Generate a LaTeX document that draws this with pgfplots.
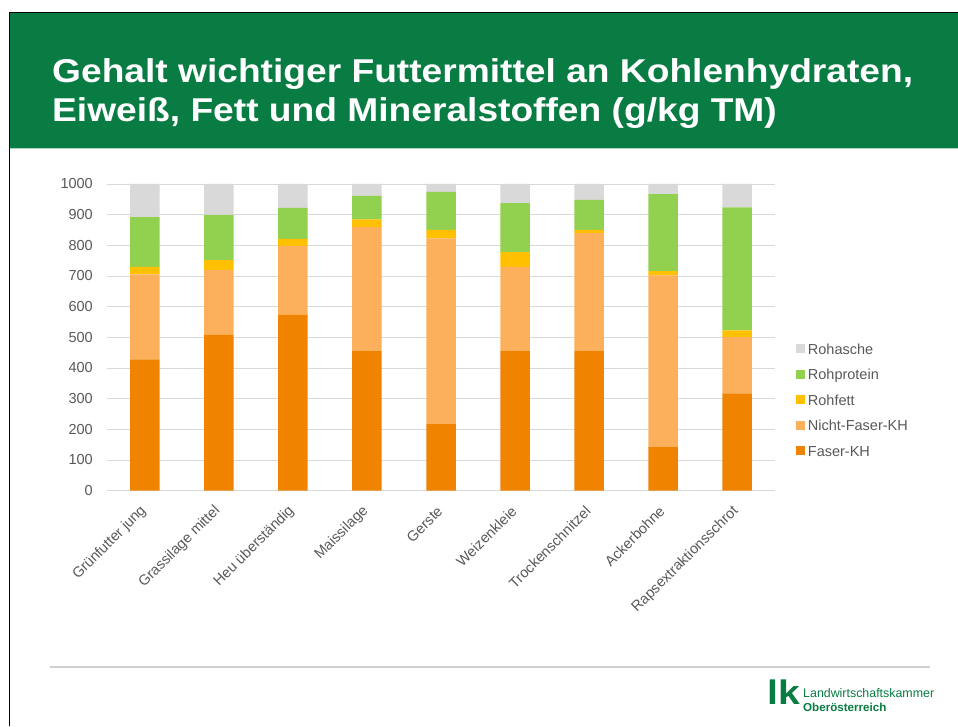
\documentclass[border=0pt]{standalone}
\usepackage{pgfplots}
\pgfplotsset{compat=1.18}
\usepackage{pgfplotstable}
\usepackage{graphicx}
\usepackage{fontspec}
\setmainfont{Liberation Sans}
\definecolor{lkgreen}{RGB}{8,124,66}
\definecolor{lkline}{RGB}{168,213,194}
\definecolor{faser}{RGB}{240,131,0}
\definecolor{nichtfaser}{RGB}{253,176,92}
\definecolor{rohfett}{RGB}{255,192,0}
\definecolor{rohprotein}{RGB}{146,208,80}
\definecolor{rohasche}{RGB}{217,217,217}
\definecolor{ticktext}{RGB}{89,89,89}
\definecolor{gridc}{RGB}{217,217,217}

\pgfplotstableread{
x F NF RF RP RA
0 428 277 25 162 108
1 508 212 32 147 101
2 573 225 23 101 78
3 455 405 25 76 39
4 217 606 27 124 26
5 455 275 48 160 62
6 455 385 10 98 52
7 142 560 14 251 33
8 317 184 22 401 76
}\data

\begin{document}
\begin{tikzpicture}
\path[use as bounding box] (0pt,0pt) rectangle (958pt,726pt);
\fill[white] (0pt,0pt) rectangle (958pt,726pt);
\fill[lkgreen] (10pt,578pt) rectangle (958pt,713pt);
\fill[lkline] (10pt,576.8pt) rectangle (958pt,578pt);
\draw[black, line width=1.5pt] (9.5pt,0pt) -- (9.5pt,713.5pt) -- (958pt,713.5pt);
\node[anchor=base west, inner sep=0pt, text=white] at (52pt,643.5pt)
  {\scalebox{1.126}[1]{\fontsize{33}{33}\selectfont\bfseries Gehalt wichtiger Futtermittel an Kohlenhydraten,}};
\node[anchor=base west, inner sep=0pt, text=white] at (52pt,604pt)
  {\scalebox{1.126}[1]{\fontsize{33}{33}\selectfont\bfseries Eiweiß, Fett und Mineralstoffen (g/kg TM)}};
\draw[gridc!90!gray, line width=1.6pt] (50pt,59pt) -- (930pt,59pt);
\node[anchor=base west, inner sep=0pt, text=lkgreen] at (767pt,22pt)
  {\scalebox{1.15}[1]{\fontsize{34}{34}\selectfont\bfseries lk}};
\node[anchor=base west, inner sep=0pt, text=lkgreen] at (803pt,29pt)
  {\fontsize{12.4}{12.4}\selectfont Landwirtschaftskammer};
\node[anchor=base west, inner sep=0pt, text=lkgreen] at (803pt,15pt)
  {\fontsize{11.6}{11.6}\selectfont\bfseries Oberösterreich};
\begin{axis}[
  at={(107pt,235.33pt)}, anchor=south west,
  scale only axis, width=668pt, height=306.67pt,
  ybar stacked, bar width=29.5pt,
  xmin=-0.512, xmax=8.512, ymin=0, ymax=1000,
  enlargelimits=false,
  xtick={0,...,8},
  xticklabels={Grünfutter jung, Grassilage mittel, Heu überständig, Maissilage, Gerste, Weizenkleie, Trockenschnitzel, Ackerbohne, Rapsextraktionsschrot},
  ytick={0,100,...,1000},
  ymajorgrids, grid style={gridc, line width=0.9pt},
  axis line style={draw=none},
  major tick length=0pt,
  tick label style={font=\fontsize{14.5}{14.5}\selectfont, text=ticktext},
  /pgf/number format/assume math mode=true,
  /pgf/number format/set thousands separator={},
  yticklabel style={anchor=east, inner sep=0pt, xshift=-14pt},
  xticklabel style={yshift=-18pt, xshift=-1pt, rotate=45, anchor=east, inner sep=0pt},
  reverse legend,
  legend style={at={(1.031,0.296)}, anchor=west, draw=none, fill=none,
    font=\fontsize{14.5}{14.5}\selectfont, text=ticktext, inner sep=0pt,
    row sep=0pt, nodes={inner sep=0pt, text height=18pt, text depth=7.5pt},
    /tikz/every odd column/.append style={column sep=3pt}},
  legend cell align=left,
  legend image code/.code={\draw[#1, draw=none] (0pt,-4.5pt) rectangle (9pt,4.5pt);},
]
\addplot[fill=faser, draw=none] table[x=x, y=F] {\data};
\addplot[fill=nichtfaser, draw=none] table[x=x, y=NF] {\data};
\addplot[fill=rohfett, draw=none] table[x=x, y=RF] {\data};
\addplot[fill=rohprotein, draw=none] table[x=x, y=RP] {\data};
\addplot[fill=rohasche, draw=none] table[x=x, y=RA] {\data};
\legend{Faser-KH, Nicht-Faser-KH, Rohfett, Rohprotein, Rohasche}
\end{axis}
\end{tikzpicture}
\end{document}
